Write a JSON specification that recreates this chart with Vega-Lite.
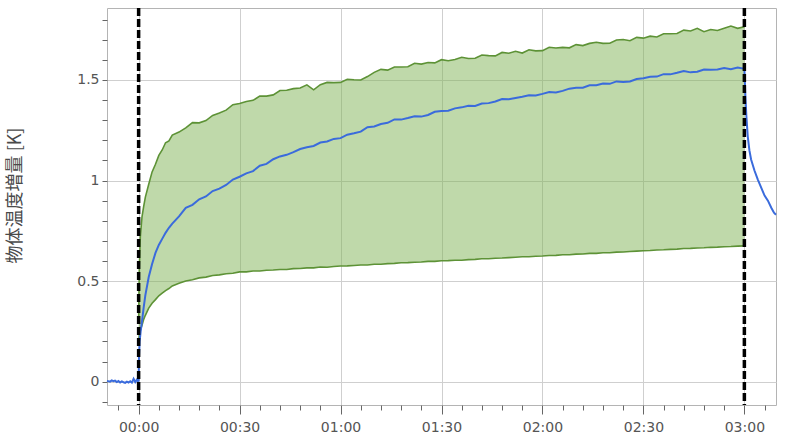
{
  "$schema": "https://vega.github.io/schema/vega-lite/v6.json",
  "width": 669,
  "height": 397,
  "autosize": {"type": "none"},
  "padding": {"left": 107, "top": 8, "right": 10, "bottom": 39},
  "background": "white",
  "config": {
    "view": {"stroke": "#b4b4b4", "strokeWidth": 1},
    "font": "DejaVu Sans"
  },
  "datasets": {
    "band": [
      {"t":0,"lo":0.2,"hi":0.3},{"t":0.2,"lo":0.23,"hi":0.56},{"t":0.5,"lo":0.255,"hi":0.72},{"t":1,"lo":0.28,"hi":0.82},{"t":1.5,"lo":0.31,"hi":0.872},{"t":2,"lo":0.33,"hi":0.918},{"t":3,"lo":0.366,"hi":0.982},{"t":4,"lo":0.39,"hi":1.043},{"t":5,"lo":0.408,"hi":1.081},{"t":6,"lo":0.427,"hi":1.125},{"t":7,"lo":0.44,"hi":1.152},{"t":8,"lo":0.453,"hi":1.188},{"t":9,"lo":0.463,"hi":1.197},
      {"t":10,"lo":0.476,"hi":1.226},{"t":12,"lo":0.489,"hi":1.241},{"t":14,"lo":0.501,"hi":1.262},{"t":16,"lo":0.507,"hi":1.288},{"t":18,"lo":0.516,"hi":1.287},{"t":20,"lo":0.52,"hi":1.298},{"t":22,"lo":0.528,"hi":1.324},{"t":24,"lo":0.531,"hi":1.336},{"t":26,"lo":0.537,"hi":1.35},{"t":28,"lo":0.539,"hi":1.377},
      {"t":30,"lo":0.546,"hi":1.383},{"t":32,"lo":0.546,"hi":1.393},{"t":34,"lo":0.55,"hi":1.399},{"t":36,"lo":0.55,"hi":1.42},{"t":38,"lo":0.554,"hi":1.42},{"t":40,"lo":0.555,"hi":1.426},{"t":42,"lo":0.558,"hi":1.448},{"t":44,"lo":0.558,"hi":1.449},{"t":46,"lo":0.562,"hi":1.457},{"t":48,"lo":0.563,"hi":1.46},
      {"t":50,"lo":0.566,"hi":1.476},{"t":52,"lo":0.566,"hi":1.451},{"t":54,"lo":0.57,"hi":1.477},{"t":56,"lo":0.569,"hi":1.488},{"t":58,"lo":0.573,"hi":1.487},{"t":60,"lo":0.575,"hi":1.488},{"t":62,"lo":0.576,"hi":1.504},{"t":64,"lo":0.578,"hi":1.501},{"t":66,"lo":0.58,"hi":1.5},{"t":68,"lo":0.58,"hi":1.517},
      {"t":70,"lo":0.584,"hi":1.538},{"t":72,"lo":0.584,"hi":1.553},{"t":74,"lo":0.587,"hi":1.549},{"t":76,"lo":0.588,"hi":1.565},{"t":78,"lo":0.591,"hi":1.565},{"t":80,"lo":0.592,"hi":1.566},{"t":82,"lo":0.594,"hi":1.583},{"t":84,"lo":0.595,"hi":1.579},{"t":86,"lo":0.598,"hi":1.587},{"t":88,"lo":0.598,"hi":1.585},
      {"t":90,"lo":0.601,"hi":1.601},{"t":92,"lo":0.602,"hi":1.596},{"t":94,"lo":0.604,"hi":1.602},{"t":96,"lo":0.604,"hi":1.613},{"t":98,"lo":0.607,"hi":1.607},{"t":100,"lo":0.608,"hi":1.608},{"t":102,"lo":0.611,"hi":1.624},{"t":104,"lo":0.611,"hi":1.621},{"t":106,"lo":0.614,"hi":1.62},{"t":108,"lo":0.615,"hi":1.637},
      {"t":110,"lo":0.617,"hi":1.633},{"t":112,"lo":0.619,"hi":1.643},{"t":114,"lo":0.621,"hi":1.634},{"t":116,"lo":0.621,"hi":1.65},{"t":118,"lo":0.624,"hi":1.645},{"t":120,"lo":0.625,"hi":1.646},{"t":122,"lo":0.627,"hi":1.663},{"t":124,"lo":0.628,"hi":1.659},{"t":126,"lo":0.631,"hi":1.662},{"t":128,"lo":0.631,"hi":1.66},
      {"t":130,"lo":0.634,"hi":1.676},{"t":132,"lo":0.635,"hi":1.671},{"t":134,"lo":0.638,"hi":1.682},{"t":136,"lo":0.638,"hi":1.688},{"t":138,"lo":0.641,"hi":1.682},{"t":140,"lo":0.641,"hi":1.683},{"t":142,"lo":0.644,"hi":1.699},{"t":144,"lo":0.645,"hi":1.701},{"t":146,"lo":0.647,"hi":1.695},{"t":148,"lo":0.649,"hi":1.712},
      {"t":150,"lo":0.651,"hi":1.708},{"t":152,"lo":0.652,"hi":1.718},{"t":154,"lo":0.655,"hi":1.714},{"t":156,"lo":0.656,"hi":1.73},{"t":158,"lo":0.658,"hi":1.73},{"t":160,"lo":0.659,"hi":1.731},{"t":162,"lo":0.662,"hi":1.748},{"t":164,"lo":0.663,"hi":1.744},{"t":166,"lo":0.665,"hi":1.757},{"t":168,"lo":0.666,"hi":1.74},
      {"t":170,"lo":0.668,"hi":1.751},{"t":172,"lo":0.669,"hi":1.746},{"t":174,"lo":0.671,"hi":1.757},{"t":176,"lo":0.672,"hi":1.768},{"t":178,"lo":0.674,"hi":1.757},{"t":180,"lo":0.675,"hi":1.765}
    ],
    "line": [
      {"t":-9.4,"v":0.004},{"t":-8.5,"v":0.0},{"t":-8,"v":0.006},{"t":-7.5,"v":0.002},{"t":-7,"v":0.005},{"t":-6.5,"v":-0.002},{"t":-6,"v":0.003},{"t":-5.5,"v":-0.004},{"t":-5,"v":0.001},{"t":-4.5,"v":-0.003},{"t":-4,"v":-0.006},{"t":-3.5,"v":0.0},{"t":-3,"v":-0.004},{"t":-2.5,"v":0.002},{"t":-2,"v":-0.005},{"t":-1.5,"v":0.014},{"t":-1,"v":-0.002},{"t":-0.5,"v":0.01},{"t":-0.2,"v":0.002},{"t":0,"v":0.005},
      {"t":0.1,"v":0.12},{"t":0.3,"v":0.2},{"t":0.6,"v":0.25},{"t":1,"v":0.3},{"t":1.5,"v":0.37},{"t":2,"v":0.43},{"t":3,"v":0.52},{"t":4,"v":0.585},{"t":5,"v":0.64},{"t":6,"v":0.68},{"t":7,"v":0.71},{"t":8,"v":0.74},{"t":9,"v":0.765},
      {"t":10,"v":0.786},{"t":12,"v":0.822},{"t":14,"v":0.864},{"t":16,"v":0.879},{"t":18,"v":0.907},{"t":20,"v":0.921},{"t":22,"v":0.948},{"t":24,"v":0.96},{"t":26,"v":0.978},{"t":28,"v":1.005},
      {"t":30,"v":1.019},{"t":32,"v":1.036},{"t":34,"v":1.047},{"t":36,"v":1.074},{"t":38,"v":1.083},{"t":40,"v":1.106},{"t":42,"v":1.12},{"t":44,"v":1.128},{"t":46,"v":1.141},{"t":48,"v":1.157},
      {"t":50,"v":1.166},{"t":52,"v":1.172},{"t":54,"v":1.189},{"t":56,"v":1.194},{"t":58,"v":1.207},{"t":60,"v":1.211},{"t":62,"v":1.228},{"t":64,"v":1.235},{"t":66,"v":1.243},{"t":68,"v":1.265},
      {"t":70,"v":1.269},{"t":72,"v":1.281},{"t":74,"v":1.287},{"t":76,"v":1.304},{"t":78,"v":1.303},{"t":80,"v":1.311},{"t":82,"v":1.32},{"t":84,"v":1.318},{"t":86,"v":1.326},{"t":88,"v":1.342},
      {"t":90,"v":1.346},{"t":92,"v":1.347},{"t":94,"v":1.359},{"t":96,"v":1.364},{"t":98,"v":1.372},{"t":100,"v":1.371},{"t":102,"v":1.383},{"t":104,"v":1.385},{"t":106,"v":1.393},{"t":108,"v":1.405},
      {"t":110,"v":1.404},{"t":112,"v":1.411},{"t":114,"v":1.417},{"t":116,"v":1.424},{"t":118,"v":1.423},{"t":120,"v":1.431},{"t":122,"v":1.44},{"t":124,"v":1.438},{"t":126,"v":1.446},{"t":128,"v":1.457},
      {"t":130,"v":1.461},{"t":132,"v":1.462},{"t":134,"v":1.474},{"t":136,"v":1.474},{"t":138,"v":1.482},{"t":140,"v":1.481},{"t":142,"v":1.493},{"t":144,"v":1.49},{"t":146,"v":1.493},{"t":148,"v":1.505},
      {"t":150,"v":1.509},{"t":152,"v":1.516},{"t":154,"v":1.517},{"t":156,"v":1.529},{"t":158,"v":1.528},{"t":160,"v":1.536},{"t":162,"v":1.545},{"t":164,"v":1.538},{"t":166,"v":1.541},{"t":168,"v":1.552},
      {"t":170,"v":1.551},{"t":172,"v":1.552},{"t":174,"v":1.559},{"t":176,"v":1.554},{"t":178,"v":1.562},{"t":180,"v":1.556},
      {"t":180.1,"v":1.52},{"t":180.3,"v":1.42},{"t":180.6,"v":1.32},{"t":181,"v":1.22},{"t":181.5,"v":1.15},{"t":182,"v":1.105},{"t":183,"v":1.05},{"t":184,"v":1.005},{"t":185,"v":0.965},{"t":186,"v":0.925},{"t":187,"v":0.9},{"t":188,"v":0.865},{"t":188.8,"v":0.84},{"t":189.4,"v":0.83}
    ],
    "vlines": [{"t":0},{"t":180}]
  },
  "layer": [
    {
      "data": {"name": "band"},
      "mark": {"type": "area", "color": "#80b455", "opacity": 0.5},
      "encoding": {
        "x": {
          "field": "t", "type": "quantitative",
          "scale": {"domain": [-9.4, 189.4], "nice": false, "zero": false},
          "axis": {
            "title": null,
            "values": [-6,0,6,12,18,24,30,36,42,48,54,60,66,72,78,84,90,96,102,108,114,120,126,132,138,144,150,156,162,168,174,180,186],
            "tickCount": 200,
            "labelExpr": "datum.value % 30 == 0 ? '0' + floor(datum.value/60) + ':' + (datum.value % 60 == 0 ? '00' : '30') : ''",
            "labelFont": "DejaVu Sans", "labelFontSize": 14, "labelColor": "#555555",
            "labelPadding": 6, "labelOverlap": false,
            "tickColor": "#666666",
            "tickSize": {"condition": {"test": "datum.value % 30 == 0", "value": 9}, "value": 5},
            "grid": true, "gridColor": "#cfcfcf",
            "gridOpacity": {"condition": {"test": "datum.value % 30 == 0", "value": 1}, "value": 0},
            "domain": false
          }
        },
        "y": {
          "field": "lo", "type": "quantitative",
          "scale": {"domain": [-0.116, 1.858], "nice": false, "zero": false},
          "axis": {
            "title": "物体温度増量 [K]",
            "titleFont": "Noto Sans CJK JP", "titleFontSize": 18, "titleFontWeight": "normal", "titleColor": "#4a4a4a",
            "titleAngle": 270, "titleX": -92, "titleY": 187, "titleBaseline": "middle", "titleAlign": "center",
            "values": [-0.1,0,0.1,0.2,0.3,0.4,0.5,0.6,0.7,0.8,0.9,1,1.1,1.2,1.3,1.4,1.5,1.6,1.7,1.8],
            "tickCount": 200,
            "labelExpr": "round(datum.value*10) % 5 == 0 ? '' + round(datum.value*10)/10 : ''",
            "labelFont": "DejaVu Sans", "labelFontSize": 14, "labelColor": "#555555",
            "labelPadding": 3, "labelOverlap": false,
            "tickColor": "#666666", "tickSize": 5,
            "grid": true, "gridColor": "#cfcfcf",
            "gridOpacity": {"condition": {"test": "round(datum.value*10) % 5 == 0", "value": 1}, "value": 0},
            "domain": false
          }
        },
        "y2": {"field": "hi"}
      }
    },
    {
      "data": {"name": "band"},
      "mark": {"type": "line", "color": "#5d9236", "strokeWidth": 1.6},
      "encoding": {
        "x": {"field": "t", "type": "quantitative"},
        "y": {"field": "hi", "type": "quantitative"}
      }
    },
    {
      "data": {"name": "band"},
      "mark": {"type": "line", "color": "#5d9236", "strokeWidth": 1.6},
      "encoding": {
        "x": {"field": "t", "type": "quantitative"},
        "y": {"field": "lo", "type": "quantitative"}
      }
    },
    {
      "data": {"name": "line"},
      "mark": {"type": "line", "color": "#3a6bdc", "strokeWidth": 2},
      "encoding": {
        "x": {"field": "t", "type": "quantitative"},
        "y": {"field": "v", "type": "quantitative"}
      }
    },
    {
      "data": {"name": "vlines"},
      "mark": {"type": "rule", "color": "black", "strokeWidth": 3.5, "strokeDash": [8, 3]},
      "encoding": {
        "x": {"field": "t", "type": "quantitative"}
      }
    }
  ]
}
